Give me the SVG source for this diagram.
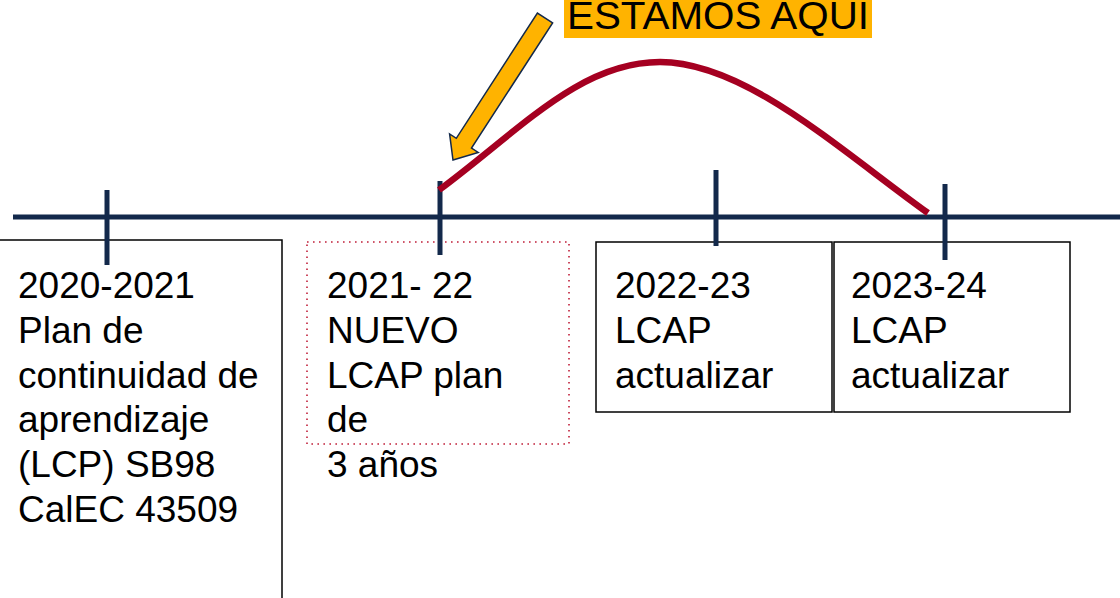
<svg xmlns="http://www.w3.org/2000/svg" width="1120" height="598" viewBox="0 0 1120 598">
<style>
.t{font-family:"Liberation Sans",Arial,sans-serif;font-size:37px;fill:#000}
.box{fill:#fff;stroke:#000;stroke-width:1.5}
.tick{stroke:#13294b;stroke-width:5}
</style>
<rect width="1120" height="598" fill="#fff"/>
<g id="node-2020">
<rect class="box" x="-2" y="240" width="284" height="370"/>
<text class="t" x="18" y="298">2020-2021</text>
<text class="t" x="18" y="343">Plan de</text>
<text class="t" x="18" y="388">continuidad de</text>
<text class="t" x="18" y="432">aprendizaje</text>
<text class="t" x="18" y="477">(LCP) SB98</text>
<text class="t" x="18" y="522">CalEC 43509</text>
</g>
<g id="node-2021">
<rect x="307" y="242" width="262" height="202" fill="none" stroke="#c0203a" stroke-width="1.6" stroke-dasharray="1.6 4.4"/>
<text class="t" x="327" y="298">2021- 22</text>
<text class="t" x="327" y="343">NUEVO</text>
<text class="t" x="327" y="388">LCAP plan</text>
<text class="t" x="327" y="432">de</text>
<text class="t" x="327" y="477">3 años</text>
</g>
<g id="node-2022">
<rect class="box" x="596" y="242" width="236" height="170"/>
<text class="t" x="615" y="298">2022-23</text>
<text class="t" x="615" y="343">LCAP</text>
<text class="t" x="615" y="388">actualizar</text>
</g>
<g id="node-2023">
<rect class="box" x="834" y="242" width="236" height="170"/>
<text class="t" x="851" y="298">2023-24</text>
<text class="t" x="851" y="343">LCAP</text>
<text class="t" x="851" y="388">actualizar</text>
</g>
<g id="connectors">
<line x1="13" y1="217" x2="1120" y2="217" stroke="#13294b" stroke-width="5"/>
<line class="tick" x1="107" y1="190" x2="107" y2="265"/>
<line class="tick" x1="440" y1="181" x2="440" y2="255"/>
<line class="tick" x1="716" y1="170" x2="716" y2="246"/>
<line class="tick" x1="945" y1="184" x2="945" y2="260"/>
<path d="M439,190 C520,130 580,62 660,62 C745,62 840,150 928,213" fill="none" stroke="#a50021" stroke-width="6.5"/>
<polygon points="552.6,22.9 537.4,13.1 456.3,138.3 449.6,133.9 453,160 478.2,152.4 471.5,148.1" fill="#ffb300" stroke="#13294b" stroke-width="1.5" stroke-linejoin="miter"/>
</g>
<g id="label-estamos">
<rect x="564" y="0" width="308" height="38" fill="#ffb300"/>
<text class="t" x="567" y="29" style="font-size:38px" textLength="302" lengthAdjust="spacingAndGlyphs">ESTAMOS AQUI</text>
</g>
</svg>
